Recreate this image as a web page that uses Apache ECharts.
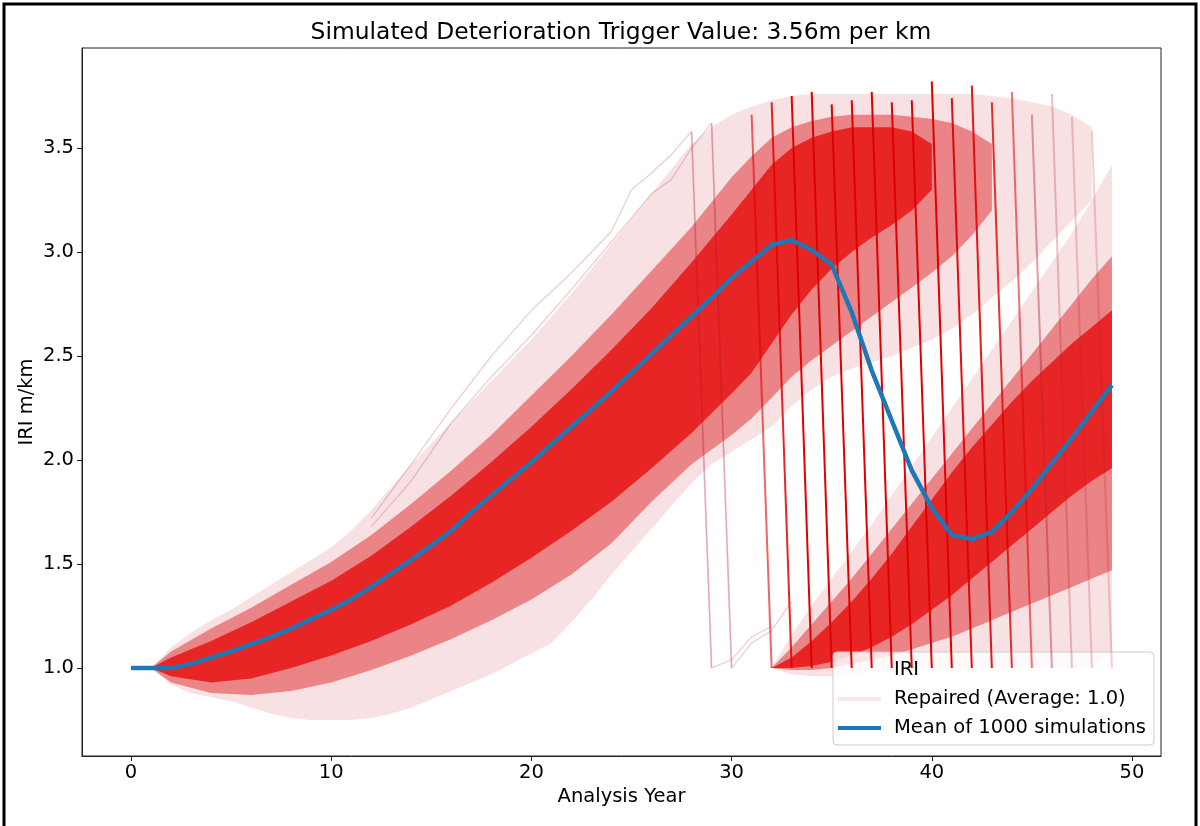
<!DOCTYPE html>
<html>
<head>
<meta charset="utf-8">
<script src="https://cdn.jsdelivr.net/npm/echarts@6/dist/echarts.min.js"></script>
<style>
html,body{margin:0;padding:0;background:#fff;}
#chart{width:1200px;height:826px;}
</style>
</head>
<body>
<div id="chart"></div>
<script>
// ---------------- DATA ----------------
const titleText = 'Simulated Deterioration Trigger Value: 3.56m per km';
const xTicks = [0, 10, 20, 30, 40, 50];
const yTicks = [1.0, 1.5, 2.0, 2.5, 3.0, 3.5];
const REPAIR_VALUE = 1.0;

const years = [0,1,2,3,4,5,6,7,8,9,10,11,12,13,14,15,16,17,18,19,20,21,22,23,24,25,26,27,28,29,30,31,32,33,34,35,36,37,38,39,40,41,42,43,44,45,46,47,48,49];
const meanIRI = [1.00,1.00,1.00,1.02,1.05,1.08,1.115,1.15,1.19,1.235,1.28,1.33,1.39,1.455,1.52,1.59,1.66,1.75,1.83,1.91,1.99,2.075,2.16,2.245,2.33,2.42,2.51,2.60,2.69,2.78,2.875,2.955,3.035,3.058,3.01,2.94,2.71,2.43,2.19,1.95,1.77,1.64,1.62,1.655,1.75,1.86,1.985,2.105,2.235,2.36];

// Unrepaired simulation cloud (A): faint outer envelope
const aOuterYears = [1,2,3,4,5,6,7,8,9,10,11,12,13,14,15,16,17,18,19,20,21,22,23,24,25,26,27,28,29,30,31,32,33,34,35,36,37,38,39,40,41,42,43,44,45,46,47,48];
const aOuterLo = [1.00,0.92,0.88,0.86,0.84,0.81,0.78,0.76,0.75,0.75,0.75,0.76,0.78,0.81,0.85,0.89,0.93,0.97,1.02,1.07,1.12,1.22,1.33,1.45,1.56,1.67,1.78,1.89,1.98,2.04,2.10,2.16,2.26,2.34,2.40,2.44,2.47,2.50,2.54,2.58,2.63,2.70,2.78,2.86,2.95,3.05,3.15,3.25];
const aOuterHi = [1.00,1.10,1.17,1.23,1.28,1.34,1.40,1.46,1.52,1.58,1.66,1.76,1.87,1.98,2.08,2.18,2.28,2.38,2.48,2.58,2.69,2.80,2.92,3.04,3.16,3.28,3.40,3.52,3.60,3.66,3.70,3.73,3.75,3.76,3.76,3.76,3.76,3.76,3.76,3.76,3.76,3.76,3.75,3.74,3.72,3.70,3.66,3.60];
// A: medium-density band
const aMidYears = [1,2,4,6,8,10,12,14,16,18,20,22,24,26,28,30,31,32,33,34,35,36,37,38,39,40,41,42,43];
const aMidLo = [1.00,0.93,0.88,0.87,0.89,0.93,0.99,1.06,1.14,1.23,1.33,1.45,1.60,1.80,1.98,2.12,2.20,2.30,2.40,2.48,2.55,2.62,2.69,2.76,2.83,2.90,2.98,3.08,3.20];
const aMidHi = [1.00,1.08,1.19,1.29,1.40,1.51,1.64,1.79,1.95,2.12,2.31,2.50,2.70,2.91,3.12,3.36,3.46,3.55,3.60,3.63,3.65,3.66,3.66,3.66,3.65,3.64,3.62,3.58,3.52];
// A: dense core
const aCoreYears = [1,2,4,6,8,10,12,14,16,18,20,22,24,26,28,30,31,32,33,34,35,36,37,38,39,40];
const aCoreLo = [1.00,0.96,0.93,0.95,1.00,1.06,1.13,1.21,1.30,1.41,1.53,1.66,1.80,1.96,2.13,2.32,2.42,2.56,2.70,2.82,2.92,3.00,3.07,3.13,3.20,3.30];
const aCoreHi = [1.00,1.05,1.13,1.22,1.32,1.42,1.54,1.68,1.83,1.99,2.16,2.34,2.53,2.73,2.95,3.18,3.30,3.42,3.50,3.55,3.58,3.60,3.60,3.60,3.58,3.52];

// Repaired simulation cloud (B)
const bYears = [32,33,34,35,36,37,38,39,40,41,42,43,44,45,46,47,48,49];
const bOuterLo = [1.00,0.97,0.96,0.96,0.97,0.98,0.99,1.00,1.00,1.00,1.00,1.00,1.00,1.00,1.00,1.00,1.00,1.08];
const bOuterHi = [1.00,1.16,1.30,1.43,1.56,1.69,1.83,1.97,2.11,2.25,2.39,2.53,2.67,2.81,2.95,3.09,3.25,3.42];
const bMidLo = [1.00,0.99,0.99,1.00,1.02,1.04,1.06,1.09,1.12,1.15,1.19,1.23,1.27,1.31,1.35,1.39,1.43,1.47];
const bMidHi = [1.00,1.10,1.21,1.32,1.43,1.55,1.67,1.79,1.91,2.03,2.15,2.27,2.39,2.51,2.63,2.75,2.87,2.98];
const bCoreLo = [1.00,1.00,1.01,1.03,1.06,1.10,1.15,1.21,1.28,1.35,1.43,1.51,1.59,1.67,1.75,1.83,1.90,1.96];
const bCoreHi = [1.00,1.05,1.13,1.22,1.32,1.43,1.55,1.68,1.81,1.94,2.06,2.17,2.28,2.38,2.47,2.56,2.64,2.72];

// Repairs: year the trigger was exceeded, peak IRI reached, share of simulations (line strength)
const repairYears = [28,29,31,32,33,34,35,36,37,38,39,40,41,42,43,44,45,46,47,48];
const repairPeaks = [3.58,3.62,3.66,3.72,3.75,3.77,3.71,3.73,3.77,3.72,3.73,3.82,3.74,3.80,3.72,3.77,3.66,3.76,3.65,3.58];
const repairShare = [0.15,0.15,0.6,0.85,1,1,1,1,1,1,1,1,0.95,0.9,0.8,0.55,0.38,0.22,0.18,0.16];

// Two visible outlier simulations (fast deterioration, early repair)
const outlier1Years = [12,14,16,18,20,22,24,25,26,27,28,29,30,31,32];
const outlier1IRI = [1.72,1.98,2.25,2.50,2.72,2.90,3.10,3.30,3.38,3.47,3.58,1.00,1.04,1.15,1.20];
const outlier2Years = [12,14,16,18,20,22,24,26,27,28,29,30,31,32,33];
const outlier2IRI = [1.68,1.90,2.18,2.40,2.60,2.82,3.05,3.28,3.35,3.50,3.62,1.00,1.12,1.18,1.32];

// ---------------- CHART ----------------
const FONT = 'DejaVu Sans';
const BASE = 19.5;
const chart = echarts.init(document.getElementById('chart'));

function band(name, ys, lo, hi, fill, z) {
  return {
    type: 'custom', name: name, z: z, silent: true, clip: true,
    data: [[ys[0], lo[0]]],
    renderItem: function (params, api) {
      const pts = [];
      for (let i = 0; i < ys.length; i++) pts.push(api.coord([ys[i], hi[i]]));
      for (let i = ys.length - 1; i >= 0; i--) pts.push(api.coord([ys[i], lo[i]]));
      return { type: 'polygon', shape: { points: pts }, style: { fill: fill } };
    }
  };
}

const OUTER = 'rgba(200,20,35,0.13)';
const MID = 'rgba(220,20,20,0.45)';
const CORE = 'rgba(228,0,0,0.72)';

const series = [
  band('IRI', aOuterYears, aOuterLo, aOuterHi, OUTER, 1),
  band('IRI', bYears, bOuterLo, bOuterHi, OUTER, 1),
  band('IRI', aMidYears, aMidLo, aMidHi, MID, 2),
  band('IRI', bYears, bMidLo, bMidHi, MID, 2),
  band('IRI', aCoreYears, aCoreLo, aCoreHi, CORE, 3),
  band('IRI', bYears, bCoreLo, bCoreHi, CORE, 3),
  {
    type: 'line', name: 'IRI', z: 4, silent: true, showSymbol: false,
    data: outlier1Years.map((y, i) => [y, outlier1IRI[i]]),
    lineStyle: { color: 'rgba(170,20,40,0.22)', width: 1.2 }
  },
  {
    type: 'line', name: 'IRI', z: 4, silent: true, showSymbol: false,
    data: outlier2Years.map((y, i) => [y, outlier2IRI[i]]),
    lineStyle: { color: 'rgba(170,20,40,0.22)', width: 1.2 }
  },
  {
    type: 'custom', name: 'Repaired (Average: 1.0)', z: 5, silent: true,
    data: repairYears.map((y, i) => [y, repairPeaks[i], repairShare[i]]),
    renderItem: function (params, api) {
      const k = api.value(0), pk = api.value(1), s = api.value(2);
      const a = api.coord([k, pk]);
      const b = api.coord([k + 1, REPAIR_VALUE]);
      const col = s < 0.5 ? 'rgba(185,30,45,' + (s + 0.05) + ')' : 'rgba(225,0,0,' + s + ')';
      return { type: 'line', shape: { x1: a[0], y1: a[1], x2: b[0], y2: b[1] },
               style: { stroke: col, lineWidth: 2 } };
    }
  },
  {
    type: 'line', name: 'Mean of 1000 simulations', z: 10, silent: true, showSymbol: false,
    data: years.map((y, i) => [y, meanIRI[i]]),
    lineStyle: { color: '#1f77b4', width: 4.5 },
    itemStyle: { color: '#1f77b4' }
  }
];

const option = {
  animation: false,
  backgroundColor: '#ffffff',
  title: {
    text: titleText, left: 621, top: 21, textAlign: 'center', padding: 0,
    textStyle: { fontFamily: FONT, fontSize: 23.4, fontWeight: 'normal', color: '#000' }
  },
  grid: {
    left: 82, top: 48, right: 39, bottom: 70, containLabel: false, outerBoundsMode: 'none',
    show: true, borderColor: '#222', borderWidth: 1, backgroundColor: 'transparent'
  },
  xAxis: {
    type: 'value', min: -2.45, max: 51.45,
    name: 'Analysis Year', nameLocation: 'middle', nameGap: 31, nameMoveOverlap: false,
    nameTextStyle: { fontFamily: FONT, fontSize: BASE, color: '#000' },
    axisLine: { show: true, onZero: false, lineStyle: { color: '#222', width: 1 } },
    axisTick: { show: true, length: 5, inside: false, customValues: xTicks, lineStyle: { color: '#222' } },
    axisLabel: { customValues: xTicks, margin: 7, fontFamily: FONT, fontSize: BASE, color: '#000' },
    splitLine: { show: false }
  },
  yAxis: {
    type: 'value', min: 0.577, max: 3.981,
    name: 'IRI m/km', nameLocation: 'middle', nameGap: 45, nameMoveOverlap: false,
    nameTextStyle: { fontFamily: FONT, fontSize: BASE, color: '#000' },
    axisLine: { show: true, onZero: false, lineStyle: { color: '#222', width: 1 } },
    axisTick: { show: true, length: 5, inside: false, customValues: yTicks, lineStyle: { color: '#222' } },
    axisLabel: { customValues: yTicks, margin: 8, fontFamily: FONT, fontSize: BASE, color: '#000',
                 formatter: function (v) { return Number(v).toFixed(1); } },
    splitLine: { show: false }
  },
  legend: {
    orient: 'vertical', left: 833, top: 652,
    backgroundColor: 'rgba(255,255,255,0.8)', borderColor: '#cccccc', borderWidth: 1, borderRadius: 4,
    padding: [8, 8, 7, 5], itemWidth: 43, itemHeight: 4, itemGap: 9,
    selectedMode: false,
    textStyle: { fontFamily: FONT, fontSize: BASE, color: '#000', padding: [0, 0, 0, 8] },
    data: [
      { name: 'IRI', icon: 'rect', itemStyle: { color: 'rgba(255,255,255,0)' } },
      { name: 'Repaired (Average: 1.0)', icon: 'rect', itemStyle: { color: 'rgba(215,120,130,0.18)' } },
      { name: 'Mean of 1000 simulations', icon: 'rect', itemStyle: { color: '#1f77b4' } }
    ]
  },
  graphic: [{
    type: 'rect', silent: true, z: 100,
    shape: { x: 4, y: 4, width: 1192, height: 900 },
    style: { fill: 'none', stroke: '#000', lineWidth: 3 }
  }],
  series: series
};
chart.setOption(option);
</script>
</body>
</html>
